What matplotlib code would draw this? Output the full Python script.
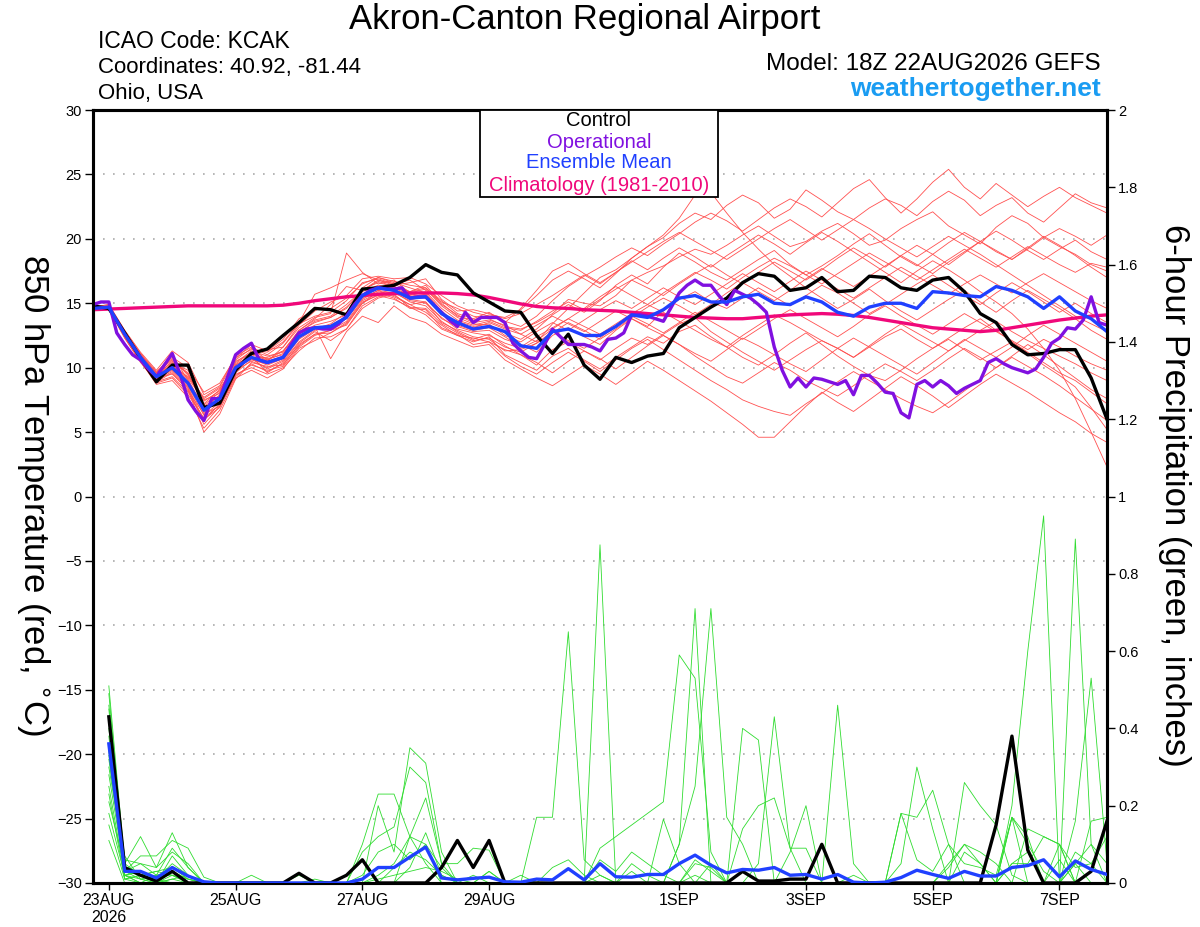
import pandas as pd
import matplotlib
matplotlib.use('Agg')
import matplotlib.pyplot as plt
from matplotlib.patches import Rectangle

plt.rcParams['font.family'] = ['Liberation Sans', 'DejaVu Sans']

# times (6-hourly temperature from 18Z 22AUG, 3-hourly operational, 6-h precip from 00Z 23AUG)
temp_times = pd.date_range('2026-08-22 18:00', periods=65, freq='6h')
op_times = pd.date_range('2026-08-22 18:00', periods=129, freq='3h')
precip_times = pd.date_range('2026-08-23 00:00', periods=64, freq='6h')

tick_dates = ['2026-08-23', '2026-08-25', '2026-08-27', '2026-08-29',
              '2026-09-01', '2026-09-03', '2026-09-05', '2026-09-07']
tick_labels = ['23AUG\n2026', '25AUG', '27AUG', '29AUG', '1SEP', '3SEP', '5SEP', '7SEP']

# 850 hPa temperature (C)
control_t = [14.8, 14.6, 12.7, 10.75, 8.9, 10.2, 10.2, 6.9, 7.25, 9.8,
             11.1, 11.45, 12.5, 13.5, 14.6, 14.5, 14.1, 16.1, 16.2, 16.4,
             17.0, 18.0, 17.4, 17.2, 15.8, 15.1, 14.4, 14.3, 12.5, 11.1,
             12.6, 10.2, 9.1, 10.8, 10.4, 10.9, 11.1, 13.1, 13.9, 14.7,
             15.4, 16.6, 17.3, 17.1, 16.0, 16.2, 17.0, 15.9, 16.0, 17.1,
             17.0, 16.2, 16.0, 16.8, 17.0, 15.9, 14.2, 13.5, 11.8, 11.0,
             11.1, 11.4, 11.4, 9.2, 6.0]

mean_t = [14.6, 14.7, 12.6, 10.8, 9.3, 10.0, 8.8, 6.7, 7.6, 10.0,
          10.8, 10.4, 10.8, 12.4, 13.1, 13.2, 13.9, 15.6, 16.2, 16.0,
          15.4, 15.5, 14.2, 13.5, 13.0, 13.2, 12.8, 11.7, 11.5, 12.8,
          13.0, 12.5, 12.5, 13.2, 14.1, 13.9, 14.5, 15.4, 15.6, 15.1,
          15.1, 15.5, 15.7, 15.0, 14.9, 15.5, 15.1, 14.3, 14.0, 14.7,
          15.0, 15.0, 14.6, 15.9, 15.8, 15.6, 15.5, 16.3, 16.0, 15.5,
          14.6, 15.5, 14.4, 13.8, 12.8]

clim_t = [14.5, 14.55, 14.6, 14.65, 14.7, 14.75, 14.8, 14.8, 14.8, 14.8,
          14.8, 14.8, 14.85, 15.0, 15.2, 15.35, 15.5, 15.6, 15.7, 15.75,
          15.8, 15.8, 15.8, 15.75, 15.65, 15.45, 15.2, 14.95, 14.75, 14.65,
          14.6, 14.5, 14.45, 14.4, 14.3, 14.2, 14.1, 14.0, 13.9, 13.85,
          13.8, 13.8, 13.9, 14.0, 14.1, 14.15, 14.2, 14.15, 14.05, 13.9,
          13.7, 13.5, 13.3, 13.1, 13.0, 12.9, 12.8, 12.9, 13.1, 13.3,
          13.5, 13.7, 13.85, 14.0, 14.1]

oper_t = [14.9, 15.1, 15.1, 12.7, 11.8, 11.0, 10.6, 9.9, 9.3, 10.2,
          11.1, 9.5, 7.5, 6.6, 5.9, 7.6, 7.6, 9.3, 11.0, 11.5,
          11.9, 10.6, 10.4, 10.6, 10.8, 11.8, 12.7, 13.0, 13.1, 13.0,
          13.0, 13.4, 14.0, 14.9, 15.6, 16.0, 16.2, 16.1, 16.1, 16.2,
          15.4, 15.5, 15.5, 14.9, 14.3, 13.7, 13.2, 14.3, 13.5, 13.9,
          13.9, 13.9, 13.5, 11.9, 11.3, 10.8, 10.7, 11.8, 13.0, 12.4,
          11.8, 11.8, 11.8, 11.6, 11.3, 12.2, 12.3, 12.7, 14.1, 14.1,
          14.0, 13.8, 13.6, 14.7, 15.8, 16.4, 16.8, 16.4, 16.4, 15.6,
          14.9, 16.0, 15.7, 15.4, 14.9, 14.3, 11.6, 9.8, 8.5, 9.2,
          8.5, 9.2, 9.1, 8.9, 8.7, 9.0, 7.9, 9.4, 9.4, 8.8,
          8.1, 8.0, 6.5, 6.1, 8.7, 9.0, 8.5, 9.0, 8.6, 8.0,
          8.4, 8.7, 9.0, 10.4, 10.7, 10.3, 10.0, 9.8, 9.6, 9.9,
          10.8, 11.9, 12.3, 13.1, 13.0, 13.7, 15.5, 13.5, 13.3]

members_t = [
    [14.7, 14.9, 12.9, 11.2, 9.8, 11.3, 10.4, 7.9, 8.6, 10.9, 11.6, 11.0, 11.9, 13.4, 14.0, 14.3, 15.2, 16.6, 16.9, 16.5,
     16.8, 16.0, 15.1, 14.6, 14.0, 13.8, 13.2, 13.0, 13.5, 14.2, 15.3, 15.0, 14.8, 15.6, 16.8, 17.4, 17.9, 18.6, 19.2, 18.8,
     19.5, 20.3, 21.0, 20.2, 19.4, 19.8, 20.6, 21.2, 20.4, 19.5, 19.9, 20.8, 21.5, 22.1, 21.0, 20.3, 19.6, 20.9, 21.8, 21.2,
     20.1, 19.4, 18.8, 18.0, 17.5],
    [14.5, 14.6, 12.3, 10.4, 8.9, 9.3, 8.1, 6.0, 6.9, 9.4, 10.2, 9.8, 10.1, 11.6, 12.5, 12.9, 13.3, 15.0, 15.7, 15.9,
     15.1, 14.8, 13.6, 12.8, 12.2, 12.6, 11.7, 11.0, 10.2, 11.4, 12.0, 11.3, 10.6, 11.5, 12.3, 11.8, 12.6, 13.4, 13.9, 12.8,
     12.0, 11.2, 10.5, 9.8, 10.6, 11.4, 12.1, 11.5, 10.8, 11.6, 12.4, 13.0, 12.2, 11.5, 12.3, 13.1, 13.8, 12.9, 12.0, 11.2,
     10.4, 9.6, 9.0, 8.1, 7.2],
    [14.6, 14.8, 12.7, 11.0, 9.6, 10.6, 9.5, 7.2, 8.3, 10.4, 11.3, 10.9, 11.2, 12.9, 13.8, 14.9, 16.3, 16.0, 16.7, 16.3,
     15.9, 16.4, 15.0, 14.0, 13.7, 14.1, 13.9, 14.5, 15.6, 16.8, 17.5, 16.9, 16.2, 17.3, 18.5, 19.4, 20.1, 21.2, 22.0, 21.5,
     22.6, 23.4, 22.8, 21.6, 22.3, 23.8, 23.0, 22.1, 21.5, 22.4, 23.1, 22.6, 21.8, 22.9, 23.7, 23.0, 21.8, 22.6, 23.2, 22.0,
     21.3, 22.4, 23.5, 22.8, 22.4],
    [14.6, 14.5, 12.4, 10.6, 9.0, 9.7, 8.4, 5.6, 7.0, 9.7, 10.9, 9.6, 10.4, 11.9, 12.8, 12.1, 13.0, 14.6, 15.4, 15.7,
     14.7, 14.1, 13.0, 12.5, 12.0, 12.4, 11.0, 10.4, 9.8, 10.9, 11.5, 10.6, 9.9, 10.8, 11.6, 12.4, 11.9, 12.8, 13.3, 12.4,
     11.6, 10.8, 10.2, 11.0, 11.9, 12.7, 11.8, 10.9, 10.1, 9.4, 9.0, 9.8, 10.7, 11.5, 12.2, 11.4, 10.6, 11.3, 12.0, 11.1,
     10.2, 9.4, 8.5, 6.9, 5.2],
    [14.7, 14.8, 12.8, 11.1, 9.4, 10.2, 9.1, 6.8, 7.9, 10.2, 11.0, 11.4, 11.6, 13.1, 13.9, 14.2, 18.9, 17.4, 16.5, 16.8,
     15.8, 16.1, 14.8, 13.9, 13.4, 13.3, 12.7, 12.2, 13.0, 14.1, 14.9, 14.3, 15.2, 16.4, 17.2, 16.5, 17.8, 18.9, 18.2, 17.4,
     16.8, 17.6, 18.4, 19.1, 18.0, 17.2, 17.9, 18.7, 19.6, 20.4, 19.5, 18.6, 17.9, 18.8, 19.7, 20.5, 19.8, 19.0, 18.4, 19.3,
     20.2, 19.5, 18.7, 17.8, 17.0],
    [14.5, 14.7, 12.5, 10.7, 9.1, 9.9, 8.6, 6.3, 7.3, 9.8, 10.5, 10.0, 10.6, 12.2, 13.0, 13.4, 14.3, 15.4, 16.0, 15.5,
     14.9, 15.1, 13.8, 13.2, 12.8, 12.9, 12.2, 11.8, 11.2, 12.5, 13.1, 12.4, 11.8, 12.9, 13.8, 13.2, 14.4, 15.3, 15.9, 15.1,
     14.6, 15.4, 16.2, 15.5, 14.8, 15.6, 16.4, 15.8, 15.0, 14.2, 14.9, 15.7, 16.5, 17.2, 16.4, 15.6, 14.9, 15.8, 16.6, 15.9,
     15.1, 14.3, 15.0, 14.2, 13.5],
    [14.8, 14.7, 12.6, 10.9, 9.5, 10.4, 9.8, 7.5, 8.0, 10.6, 11.5, 10.6, 11.1, 12.6, 13.3, 13.6, 14.1, 16.2, 17.0, 16.6,
     16.2, 15.8, 14.4, 13.4, 13.1, 13.5, 13.0, 12.6, 12.0, 13.4, 14.6, 15.8, 17.0, 17.6, 18.5, 19.4, 20.3, 21.6, 23.4, 23.6,
     22.0, 20.5, 19.2, 18.0, 17.1, 16.2, 15.4, 14.6, 15.3, 16.1, 15.2, 14.4, 13.7, 14.5, 15.3, 16.0, 15.1, 14.3, 15.2, 16.0,
     15.3, 14.6, 13.8, 12.9, 12.2],
    [14.6, 14.6, 12.6, 10.7, 9.2, 9.5, 8.3, 5.0, 6.4, 9.1, 10.4, 10.1, 10.2, 11.8, 12.6, 12.9, 13.6, 15.2, 15.8, 15.4,
     14.6, 14.5, 13.1, 12.6, 11.8, 12.0, 11.4, 11.0, 10.4, 9.6, 10.5, 11.3, 10.7, 9.9, 10.8, 11.7, 12.5, 11.8, 10.9, 10.1,
     9.3, 8.8, 9.6, 10.4, 9.8, 9.0, 8.4, 7.8, 8.6, 9.5, 10.3, 9.7, 9.0, 9.8, 10.7, 11.5, 10.8, 10.0, 10.9, 11.8,
     11.0, 10.1, 9.2, 8.3, 7.6],
    [14.7, 14.6, 12.8, 10.9, 9.6, 11.0, 9.0, 7.0, 7.8, 10.3, 11.2, 10.5, 11.6, 13.3, 14.4, 15.1, 15.6, 16.9, 17.1, 16.9,
     17.0, 16.5, 15.6, 14.8, 14.3, 14.0, 13.6, 13.2, 14.0, 15.2, 16.3, 17.1, 17.8, 18.6, 19.3, 18.7, 19.6, 20.4, 21.3, 22.0,
     21.4, 20.6, 21.5, 22.4, 23.1, 22.5, 21.7, 22.8, 23.9, 24.6, 23.2, 22.0, 23.1, 24.4, 25.4, 24.0, 23.1, 24.3, 23.4, 22.5,
     23.3, 24.0, 23.2, 22.6, 22.0],
    [14.5, 14.7, 12.4, 10.5, 8.8, 9.2, 7.9, 6.1, 7.1, 9.5, 10.0, 9.5, 10.0, 11.3, 12.3, 12.4, 13.0, 14.8, 15.5, 15.9,
     15.3, 15.1, 13.5, 12.9, 12.4, 12.2, 11.3, 11.4, 11.9, 12.8, 12.1, 11.5, 12.3, 13.2, 14.0, 13.4, 12.7, 13.5, 14.3, 13.6,
     12.9, 12.2, 13.0, 13.8, 14.5, 13.8, 13.1, 12.4, 13.2, 14.1, 14.8, 14.0, 13.3, 12.6, 13.4, 14.2, 13.5, 12.8, 12.1, 11.4,
     12.2, 11.6, 10.9, 10.3, 9.8],
    [14.6, 14.8, 12.7, 10.8, 9.3, 10.1, 9.3, 7.6, 8.4, 10.1, 10.8, 10.8, 11.3, 12.8, 13.5, 13.9, 14.7, 15.9, 16.4, 16.2,
     15.6, 15.9, 14.6, 13.7, 13.3, 13.6, 13.1, 12.9, 13.6, 14.4, 15.1, 14.5, 15.3, 16.1, 16.8, 16.2, 15.6, 16.5, 17.3, 18.0,
     17.2, 16.5, 17.4, 18.2, 17.5, 16.8, 17.6, 18.5, 19.3, 18.6, 17.8, 18.7, 19.5, 18.8, 18.0, 18.9, 19.8, 20.6, 19.9, 19.1,
     18.4, 19.2, 19.9, 19.0, 18.4],
    [14.6, 14.7, 12.5, 10.6, 9.0, 10.3, 8.9, 6.5, 7.6, 9.9, 10.7, 10.2, 10.7, 12.3, 13.2, 10.7, 12.8, 14.0, 13.5, 14.8,
     13.9, 13.5, 12.6, 12.1, 11.6, 11.8, 10.6, 9.9, 9.2, 8.6, 9.4, 10.2, 9.5, 8.7, 9.6, 10.5, 9.8, 9.0, 8.2, 7.4,
     6.5, 5.6, 4.6, 4.6, 5.8, 7.0, 8.1, 7.3, 6.6, 7.5, 8.4, 9.3, 8.6, 7.8, 6.9, 7.8, 8.7, 9.5, 8.8, 8.1,
     7.3, 6.5, 5.8, 4.9, 4.2],
    [14.7, 14.9, 12.9, 11.1, 9.7, 10.8, 10.0, 8.1, 8.8, 10.8, 11.4, 11.2, 12.0, 13.5, 15.7, 16.2, 16.8, 17.3, 16.8, 16.4,
     16.6, 16.9, 15.3, 14.4, 14.5, 14.2, 13.8, 14.2, 14.9, 15.6, 16.4, 17.2, 16.5, 17.4, 18.3, 17.6, 18.5, 19.3, 18.6, 17.8,
     18.7, 19.5, 20.3, 19.6, 18.8, 19.7, 20.5, 19.8, 19.0, 18.2, 17.4, 16.6, 17.5, 18.3, 17.6, 16.8, 15.9, 15.1, 14.2, 13.0,
     11.5, 9.8, 7.6, 5.0, 2.3],
    [14.5, 14.5, 12.3, 10.5, 8.7, 9.0, 7.7, 5.3, 6.7, 9.2, 9.8, 9.2, 9.9, 11.5, 12.1, 12.7, 13.4, 15.0, 15.9, 15.6,
     14.9, 14.3, 13.3, 12.5, 12.3, 12.0, 10.9, 10.1, 9.5, 10.4, 11.2, 10.5, 9.7, 10.6, 11.5, 12.2, 11.4, 10.6, 9.8, 9.0,
     8.3, 7.5, 7.0, 6.6, 6.3, 7.2, 8.0, 8.9, 9.7, 9.0, 8.3, 7.6, 7.0, 6.5, 7.3, 8.2, 9.1, 10.0, 10.8, 10.1,
     9.4, 8.6, 7.7, 6.8, 5.9],
    [14.6, 14.6, 12.6, 10.8, 9.4, 10.5, 9.6, 7.1, 8.1, 10.5, 11.1, 10.7, 11.0, 12.7, 13.6, 13.9, 14.6, 16.1, 16.6, 16.3,
     15.7, 15.4, 14.1, 13.6, 13.2, 13.4, 12.5, 12.0, 12.8, 13.5, 12.9, 13.7, 14.5, 15.2, 14.6, 15.4, 16.2, 15.5, 14.9, 15.7,
     16.5, 17.3, 16.6, 15.9, 16.7, 17.5, 16.8, 16.1, 15.4, 16.2, 17.0, 17.8, 17.1, 16.4, 15.7, 16.5, 17.2, 16.5, 15.8, 16.6,
     17.3, 16.6, 15.9, 15.2, 14.6],
    [14.7, 14.8, 12.7, 10.9, 9.5, 10.0, 8.7, 6.6, 7.4, 9.6, 10.6, 10.3, 10.8, 12.4, 13.0, 13.3, 14.0, 15.5, 16.3, 16.1,
     15.5, 15.7, 14.3, 13.3, 12.9, 13.1, 12.4, 11.6, 12.4, 13.1, 13.8, 13.2, 12.6, 13.4, 14.2, 14.9, 14.3, 13.6, 12.9, 12.2,
     11.6, 12.5, 13.3, 14.1, 13.5, 12.8, 12.1, 11.5, 10.8, 11.7, 12.6, 13.4, 12.7, 12.0, 11.3, 12.1, 12.9, 13.6, 12.8, 12.1,
     11.5, 10.9, 10.3, 9.6, 9.0],
    [14.6, 14.7, 12.5, 10.6, 9.1, 9.8, 8.5, 5.9, 7.2, 9.9, 10.7, 9.9, 10.5, 12.0, 12.9, 13.1, 13.8, 15.3, 16.0, 15.8,
     15.2, 15.0, 13.9, 13.0, 12.7, 12.5, 11.9, 11.5, 12.1, 13.0, 13.8, 14.6, 15.5, 16.3, 15.6, 14.9, 15.8, 16.6, 17.4, 16.8,
     16.1, 17.0, 17.8, 18.5, 17.9, 17.2, 16.5, 17.3, 18.1, 18.9, 18.2, 17.5, 16.8, 17.6, 18.4, 19.2, 18.5, 17.8, 18.6, 19.4,
     18.7, 18.0, 17.4, 18.1, 17.8],
    [14.7, 14.7, 12.6, 10.9, 9.4, 10.3, 9.2, 7.4, 8.2, 10.2, 11.0, 10.6, 11.3, 12.9, 13.7, 14.0, 14.9, 16.0, 16.8, 16.5,
     15.9, 16.2, 14.9, 14.1, 13.5, 13.7, 13.3, 12.6, 13.3, 14.0, 13.4, 12.8, 13.6, 14.4, 13.8, 13.1, 12.5, 11.8, 11.1, 10.5,
     11.4, 12.3, 11.7, 11.0, 10.3, 9.7, 10.6, 11.5, 12.3, 11.6, 10.9, 10.2, 9.5, 10.4, 11.3, 12.2, 11.5, 10.8, 11.6, 12.5,
     13.3, 12.6, 11.9, 11.2, 10.5],
    [14.5, 14.6, 12.4, 10.5, 8.9, 9.6, 8.2, 6.4, 7.0, 9.3, 10.3, 9.7, 10.3, 11.7, 12.6, 12.7, 13.5, 15.1, 15.6, 15.3,
     14.7, 14.6, 13.4, 12.7, 12.1, 12.3, 11.6, 11.2, 11.9, 12.7, 13.5, 12.9, 12.2, 13.0, 13.9, 14.7, 15.4, 14.8, 14.1, 14.9,
     15.8, 16.6, 15.9, 15.2, 16.0, 16.9, 17.7, 17.0, 16.3, 17.1, 17.9, 18.7, 18.0, 17.3, 18.2, 19.0, 19.8, 19.1, 18.4, 19.2,
     20.1, 20.8, 20.2, 19.5, 20.3],
    [14.6, 14.8, 12.8, 11.0, 9.6, 10.7, 9.4, 7.7, 8.5, 10.7, 11.8, 11.3, 12.2, 13.8, 14.5, 14.6, 15.4, 16.5, 17.0, 16.7,
     16.4, 16.2, 15.2, 14.2, 13.8, 14.3, 13.5, 14.6, 16.0, 17.5, 18.1, 17.3, 16.6, 17.4, 18.2, 19.0, 19.8, 20.5, 19.8, 19.1,
     18.4, 19.2, 20.0, 20.8, 21.5, 20.7, 19.9, 20.7, 21.5, 20.8, 20.0, 19.3, 18.6, 19.4, 20.2, 19.5, 18.8, 18.0, 17.2, 16.4,
     15.6, 14.8, 14.0, 13.4, 12.8],
]

# 6-hour precipitation (inches)
control_p = [0.43, 0.04, 0.02, 0.005, 0.03, 0, 0, 0,
             0, 0, 0, 0, 0.025, 0, 0, 0.02,
             0.06, 0, 0, 0, 0, 0.04, 0.11, 0.04,
             0.11, 0, 0, 0, 0, 0, 0, 0,
             0, 0, 0, 0, 0, 0, 0, 0,
             0.03, 0.005, 0.005, 0.01, 0.01, 0.10, 0, 0,
             0, 0, 0, 0, 0, 0, 0, 0,
             0.15, 0.38, 0.085, 0, 0, 0, 0.03, 0.16]

mean_p = [0.36, 0.03, 0.03, 0.013, 0.04, 0.018, 0.003, 0,
          0, 0, 0, 0, 0, 0, 0, 0,
          0.01, 0.04, 0.04, 0.067, 0.093, 0.013, 0.008, 0.012,
          0.015, 0.003, 0.002, 0.01, 0.008, 0.037, 0.008, 0.05,
          0.016, 0.015, 0.022, 0.022, 0.05, 0.072, 0.046, 0.026,
          0.035, 0.033, 0.04, 0.02, 0.022, 0.01, 0.022, 0.002,
          0, 0.002, 0.014, 0.033, 0.022, 0.012, 0.03, 0.018,
          0.018, 0.04, 0.045, 0.06, 0.016, 0.057, 0.035, 0.022]

members_p = [
    [0.51, 0.05, 0.12, 0.04, 0.13, 0.04, 0, 0, 0, 0, 0, 0, 0, 0, 0, 0,
     0.10, 0.23, 0.23, 0.12, 0.05, 0, 0, 0, 0, 0, 0, 0, 0, 0, 0, 0.02,
     0, 0.03, 0, 0, 0.10, 0.71, 0, 0, 0, 0, 0, 0, 0, 0, 0, 0,
     0, 0, 0.05, 0.30, 0.14, 0, 0, 0, 0, 0.20, 0.60, 0.95, 0, 0.05, 0, 0],
    [0.49, 0.03, 0.07, 0.07, 0.11, 0.09, 0.015, 0, 0, 0, 0, 0, 0.02, 0, 0, 0,
     0, 0.20, 0.08, 0.35, 0.31, 0.08, 0, 0, 0, 0, 0, 0.17, 0.17, 0.65, 0.06, 0.02,
     0, 0, 0, 0, 0, 0.05, 0.04, 0, 0, 0, 0, 0, 0, 0, 0, 0,
     0, 0, 0, 0, 0, 0, 0.26, 0.20, 0.15, 0.02, 0, 0, 0, 0.89, 0.10, 0],
    [0.46, 0.06, 0.05, 0.02, 0.09, 0.04, 0, 0, 0, 0.02, 0, 0, 0, 0, 0, 0,
     0.08, 0.12, 0.145, 0.30, 0.26, 0.05, 0, 0, 0, 0, 0, 0, 0, 0, 0, 0.875,
     0, 0, 0, 0, 0, 0, 0, 0, 0.14, 0.20, 0.22, 0.09, 0, 0, 0, 0,
     0, 0, 0.18, 0.17, 0.24, 0.10, 0, 0, 0, 0, 0, 0, 0, 0.16, 0.53, 0.05],
    [0.42, 0.02, 0.03, 0, 0.07, 0.02, 0, 0, 0, 0, 0, 0, 0, 0, 0, 0,
     0, 0.02, 0.05, 0.12, 0.22, 0.05, 0.05, 0.09, 0.085, 0, 0, 0, 0, 0, 0, 0.09,
     0.12, 0.15, 0.18, 0.21, 0.59, 0.53, 0.08, 0, 0, 0, 0, 0, 0, 0, 0, 0,
     0, 0, 0, 0, 0, 0, 0, 0, 0, 0, 0.14, 0.12, 0.10, 0, 0, 0],
    [0.40, 0.04, 0.02, 0.01, 0.05, 0.02, 0, 0, 0, 0, 0, 0, 0, 0, 0, 0,
     0, 0, 0, 0.04, 0.13, 0.02, 0, 0, 0, 0, 0, 0, 0, 0, 0, 0,
     0, 0, 0, 0, 0.10, 0.25, 0.71, 0.17, 0.10, 0, 0, 0, 0, 0, 0, 0,
     0, 0, 0, 0, 0, 0, 0, 0, 0, 0.17, 0, 0, 0, 0, 0.16, 0.17],
    [0.38, 0.01, 0.02, 0.03, 0.04, 0.01, 0, 0, 0, 0, 0, 0, 0, 0, 0, 0,
     0, 0, 0, 0, 0, 0, 0, 0, 0, 0, 0, 0, 0, 0, 0, 0,
     0, 0, 0, 0, 0, 0, 0, 0, 0.40, 0.37, 0, 0, 0, 0, 0, 0,
     0, 0, 0, 0, 0, 0, 0, 0, 0, 0, 0, 0, 0, 0, 0, 0],
    [0.36, 0.07, 0.01, 0, 0.02, 0, 0, 0, 0, 0, 0, 0, 0, 0, 0, 0,
     0, 0, 0, 0, 0, 0, 0, 0, 0, 0, 0, 0, 0, 0, 0, 0,
     0, 0, 0, 0, 0, 0, 0, 0, 0, 0.05, 0.43, 0.09, 0.09, 0, 0, 0,
     0, 0, 0, 0, 0, 0, 0, 0, 0, 0, 0, 0, 0, 0, 0, 0],
    [0.35, 0.02, 0, 0.02, 0.03, 0.01, 0, 0, 0, 0, 0, 0, 0, 0, 0, 0,
     0, 0, 0, 0, 0, 0, 0, 0, 0, 0, 0, 0, 0, 0, 0, 0,
     0, 0, 0, 0, 0, 0, 0, 0, 0, 0, 0, 0, 0, 0, 0.46, 0.05,
     0, 0, 0, 0, 0, 0, 0, 0, 0, 0, 0, 0, 0, 0, 0, 0],
    [0.34, 0.03, 0.01, 0, 0.01, 0.02, 0, 0, 0, 0, 0, 0, 0, 0, 0, 0,
     0, 0.01, 0.02, 0.03, 0.04, 0.03, 0.01, 0, 0, 0, 0, 0, 0, 0, 0, 0.06,
     0.03, 0.08, 0.05, 0.02, 0, 0.02, 0, 0, 0, 0, 0, 0.08, 0.20, 0, 0, 0,
     0, 0, 0, 0, 0, 0, 0, 0, 0, 0, 0, 0, 0, 0, 0, 0],
    [0.33, 0.02, 0.03, 0.01, 0.04, 0.02, 0, 0, 0, 0, 0, 0, 0, 0.01, 0, 0,
     0, 0, 0.04, 0.08, 0.06, 0.02, 0, 0.02, 0, 0, 0, 0, 0, 0, 0, 0,
     0, 0, 0, 0, 0, 0, 0, 0, 0, 0, 0, 0, 0, 0, 0, 0,
     0, 0, 0.18, 0.06, 0.03, 0.10, 0.05, 0.04, 0.02, 0.17, 0.10, 0.03, 0, 0, 0, 0],
    [0.30, 0.05, 0.02, 0.03, 0.02, 0.01, 0, 0, 0, 0, 0, 0, 0, 0, 0, 0,
     0.02, 0.08, 0.10, 0.06, 0.10, 0.04, 0, 0, 0.03, 0, 0, 0, 0.04, 0.06, 0.02, 0,
     0, 0, 0, 0.165, 0.05, 0, 0, 0, 0, 0, 0, 0, 0, 0, 0, 0,
     0, 0, 0, 0, 0, 0, 0, 0, 0, 0, 0, 0, 0, 0, 0, 0],
    [0.28, 0.03, 0.02, 0, 0.03, 0, 0, 0, 0, 0, 0, 0, 0, 0, 0, 0,
     0, 0, 0, 0, 0, 0, 0, 0, 0, 0, 0, 0, 0, 0, 0, 0,
     0, 0, 0, 0, 0, 0, 0, 0, 0, 0, 0, 0, 0, 0, 0, 0,
     0, 0, 0, 0, 0, 0.04, 0.10, 0.08, 0.05, 0, 0, 0, 0.10, 0, 0, 0],
    [0.25, 0.02, 0.01, 0.02, 0.02, 0, 0, 0, 0, 0, 0, 0, 0, 0, 0, 0,
     0, 0, 0, 0, 0, 0, 0, 0, 0, 0, 0, 0, 0, 0, 0, 0,
     0, 0.05, 0.02, 0, 0, 0, 0.05, 0, 0, 0, 0, 0, 0, 0, 0, 0,
     0, 0, 0, 0, 0, 0, 0, 0, 0, 0, 0, 0, 0, 0, 0, 0],
    [0.23, 0.01, 0.02, 0.01, 0, 0, 0, 0, 0, 0, 0, 0, 0, 0, 0, 0,
     0, 0, 0, 0, 0, 0, 0, 0, 0, 0, 0, 0, 0, 0, 0, 0,
     0, 0, 0, 0, 0, 0, 0, 0, 0, 0, 0, 0, 0, 0, 0, 0,
     0, 0, 0, 0, 0, 0.05, 0.10, 0.05, 0, 0, 0, 0, 0, 0, 0, 0],
    [0.21, 0.04, 0.02, 0, 0.01, 0, 0, 0, 0, 0, 0, 0, 0, 0, 0, 0,
     0, 0, 0, 0, 0, 0, 0, 0, 0, 0, 0, 0, 0, 0, 0, 0,
     0, 0, 0, 0, 0, 0, 0, 0, 0, 0, 0, 0, 0, 0, 0, 0,
     0, 0, 0, 0, 0, 0, 0, 0, 0, 0.05, 0.05, 0.12, 0.10, 0.04, 0.05, 0.12],
    [0.18, 0.02, 0, 0, 0, 0, 0, 0, 0, 0, 0, 0, 0, 0, 0, 0,
     0, 0, 0, 0, 0, 0, 0, 0, 0, 0, 0, 0, 0, 0, 0, 0,
     0, 0, 0, 0, 0, 0, 0, 0, 0, 0, 0, 0, 0, 0, 0, 0,
     0, 0, 0, 0, 0, 0, 0, 0, 0, 0.17, 0.12, 0, 0, 0.05, 0.10, 0.05],
    [0.15, 0.01, 0, 0, 0, 0, 0, 0, 0, 0, 0, 0, 0, 0, 0, 0,
     0, 0, 0, 0, 0, 0, 0, 0, 0.03, 0, 0.02, 0, 0, 0, 0, 0,
     0, 0, 0, 0, 0, 0, 0, 0, 0, 0, 0, 0, 0, 0, 0, 0,
     0, 0, 0, 0, 0, 0, 0, 0, 0, 0.05, 0.08, 0, 0, 0, 0, 0],
    [0.11, 0, 0, 0, 0, 0, 0, 0, 0, 0, 0, 0, 0, 0, 0, 0,
     0, 0, 0, 0, 0, 0, 0, 0, 0, 0, 0, 0, 0, 0, 0, 0,
     0, 0, 0, 0, 0, 0, 0, 0, 0, 0, 0, 0, 0, 0, 0, 0.02,
     0, 0, 0, 0, 0, 0, 0.08, 0.05, 0, 0, 0, 0, 0, 0, 0, 0],
    [0.45, 0.03, 0.05, 0.04, 0.08, 0.05, 0, 0, 0, 0, 0, 0, 0, 0, 0, 0,
     0, 0, 0, 0.12, 0.10, 0, 0, 0, 0, 0, 0, 0, 0, 0, 0, 0,
     0, 0, 0, 0, 0, 0, 0, 0, 0, 0, 0, 0, 0, 0, 0, 0,
     0, 0, 0, 0, 0, 0, 0, 0, 0, 0, 0, 0, 0, 0.08, 0.05, 0],
    [0.32, 0.04, 0.02, 0, 0, 0, 0, 0, 0, 0, 0, 0, 0, 0, 0, 0,
     0, 0, 0, 0, 0, 0, 0, 0, 0, 0, 0, 0, 0, 0, 0, 0,
     0, 0, 0, 0, 0, 0.06, 0.03, 0, 0, 0, 0, 0, 0, 0, 0, 0,
     0, 0, 0, 0, 0, 0, 0, 0, 0, 0, 0, 0, 0.06, 0, 0, 0],
]

RED = '#ff5050'
GREEN = '#2fdc2f'
PURPLE = '#8010e0'
BLUE = '#2040ff'
MAGENTA = '#f0087a'
SITE = '#1a9cf2'

fig = plt.figure(figsize=(12, 9.27), dpi=100)
ax = fig.add_axes([0.0775, 0.0475, 0.845, 0.8338])
ax2 = ax.twinx()

# temperature
for m in members_t:
    ax.plot(temp_times, m, color=RED, lw=0.6, zorder=2)
ax.plot(temp_times, clim_t, color=MAGENTA, lw=2.4, zorder=3)
ax.plot(temp_times, control_t, color='black', lw=2.4, zorder=4)
ax.plot(op_times, oper_t, color=PURPLE, lw=2.4, zorder=5)
ax.plot(temp_times, mean_t, color=BLUE, lw=2.4, zorder=6)

# precipitation
for m in members_p:
    ax2.plot(precip_times, m, color=GREEN, lw=0.6, zorder=2)
ax2.plot(precip_times, control_p, color='black', lw=2.4, zorder=4)
ax2.plot(precip_times, mean_p, color=BLUE, lw=2.4, zorder=5)

ax.set_xlim(pd.Timestamp('2026-08-22 18:00'), pd.Timestamp('2026-09-07 18:00'))
ax.set_ylim(-30, 30)
ax2.set_ylim(0, 2)
ax.set_yticks(range(-30, 31, 5))
ax2.set_yticks([0, 0.2, 0.4, 0.6, 0.8, 1, 1.2, 1.4, 1.6, 1.8, 2])
ax2.set_yticklabels(['0', '0.2', '0.4', '0.6', '0.8', '1', '1.2', '1.4', '1.6', '1.8', '2'])
ax.set_xticks([pd.Timestamp(d) for d in tick_dates])
ax.set_xticklabels(tick_labels)

ax.grid(axis='y', color='#aaaaaa', linestyle=(0, (1, 5)), lw=1.2)
ax.set_axisbelow(True)

ax.tick_params(axis='y', labelsize=10.5, length=6, width=1, direction='out', pad=2)
ax2.tick_params(axis='y', labelsize=10.5, length=6, width=1, direction='out', pad=2)
ax.tick_params(axis='x', labelsize=11.5, length=5, width=1, direction='out', pad=2)
for a in (ax, ax2):
    for s in a.spines.values():
        s.set_linewidth(2.2)

# legend box
fig.add_artist(Rectangle((0.40, 0.7875), 0.1983, 0.0939, transform=fig.transFigure,
                         facecolor='white', edgecolor='black', lw=1.3, zorder=10))
fig.text(0.499, 0.8695, 'Control', color='black', fontsize=14.5, ha='center', va='center', zorder=11)
fig.text(0.499, 0.8468, 'Operational', color=PURPLE, fontsize=14.5, ha='center', va='center', zorder=11)
fig.text(0.499, 0.8242, 'Ensemble Mean', color=BLUE, fontsize=14.5, ha='center', va='center', zorder=11)
fig.text(0.499, 0.8004, 'Climatology (1981-2010)', color=MAGENTA, fontsize=14.5, ha='center', va='center', zorder=11)

# headers
fig.text(0.4875, 0.979, 'Akron-Canton Regional Airport', fontsize=25, ha='center', va='center')
fig.text(0.0817, 0.9555, 'ICAO Code: KCAK', fontsize=16.5, ha='left', va='center')
fig.text(0.0817, 0.9275, 'Coordinates: 40.92, -81.44', fontsize=16, ha='left', va='center')
fig.text(0.0817, 0.8995, 'Ohio, USA', fontsize=16, ha='left', va='center')
fig.text(0.9175, 0.931, 'Model: 18Z 22AUG2026 GEFS', fontsize=17.5, ha='right', va='center')
fig.text(0.9175, 0.904, 'weathertogether.net', fontsize=19, ha='right', va='center',
         color=SITE, fontweight='bold')

fig.text(0.0275, 0.466, r'850 hPa Temperature (red, $^{\circ}$C)', fontsize=25,
         rotation=270, ha='center', va='center')
fig.text(0.979, 0.466, '6-hour Precipitation (green, inches)', fontsize=25,
         rotation=270, ha='center', va='center')

fig.savefig('out.png', dpi=100)
